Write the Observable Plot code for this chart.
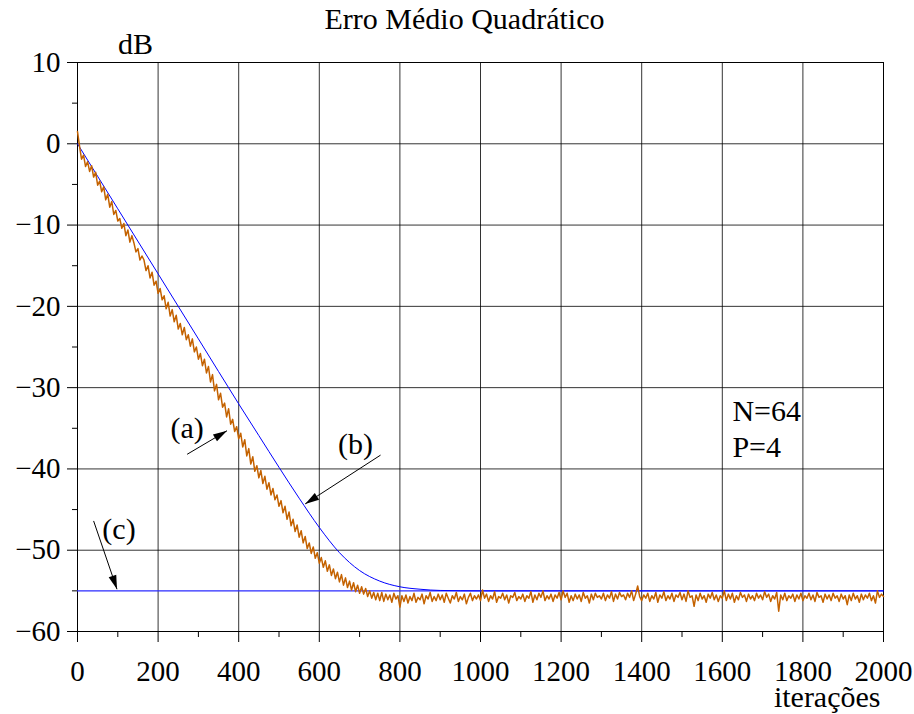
<!DOCTYPE html>
<html>
<head>
<meta charset="utf-8">
<script src="https://cdn.jsdelivr.net/npm/d3@7"></script>
<script src="https://cdn.jsdelivr.net/npm/@observablehq/plot@0.6"></script>
<style>
  html, body { margin: 0; padding: 0; background: #fff; }
  #chart { width: 914px; height: 714px; }
  #chart svg text { font-family: "Liberation Serif", "Times New Roman", Times, serif !important; }
</style>
</head>
<body>
<div id="chart"></div>
<script>
// ---- DATA ----
const title = "Erro Médio Quadrático";
const yUnit = "dB";
const xName = "iterações";

// (a) measured MSE curve, one value every 5 iterations (0..2000)
const iterStepA = 5;
const mseA = [
  1.5, -0.3, -1.9, -1.4, -2.8, -2.2, -3.4, -2.7, -4.1, -3.5, -5.1, -4.6, -5.9, -5.3, -6.9, -6.2, -7.8, -7.1, -8.7, -8.2,
  -9.5, -9.2, -10.4, -9.8, -11.3, -10.6, -12.1, -11.3, -12.2, -13.3, -12.9, -14.3, -13.8, -14.3, -15.6, -15.0, -16.5, -15.8, -17.4, -16.9,
  -18.4, -17.8, -19.2, -18.7, -20.3, -19.5, -21.2, -20.4, -21.9, -21.1, -22.8, -22.1, -23.5, -22.6, -24.1, -23.5, -24.9, -24.0, -25.6, -25.0,
  -26.5, -25.8, -27.3, -26.5, -28.2, -27.4, -29.3, -28.4, -30.4, -29.6, -31.5, -30.7, -32.4, -31.9, -33.6, -32.6, -34.5, -33.9, -35.4, -34.8,
  -36.3, -35.6, -37.3, -36.4, -38.4, -37.5, -39.4, -38.5, -40.3, -39.6, -41.1, -40.2, -41.8, -40.9, -42.5, -41.7, -43.2, -42.4, -43.8, -43.2,
  -44.6, -43.9, -45.4, -44.6, -46.2, -45.3, -47.0, -46.2, -47.7, -46.9, -48.4, -47.6, -49.1, -48.3, -49.8, -49.1, -50.4, -49.6, -51.0, -50.3,
  -51.6, -50.9, -52.1, -51.3, -52.6, -51.8, -53.1, -52.3, -53.5, -52.7, -53.9, -53.0, -54.3, -53.4, -54.6, -53.8, -54.9, -54.0, -55.1, -54.3,
  -55.3, -54.5, -55.4, -54.7, -55.7, -55.0, -55.9, -55.2, -56.1, -55.3, -56.2, -55.2, -56.3, -55.4, -56.1, -55.5, -56.4, -55.3, -56.0, -55.6,
  -57.0, -55.6, -56.3, -55.5, -56.5, -55.7, -56.2, -55.3, -56.4, -55.8, -56.1, -55.4, -56.6, -55.6, -56.0, -55.2, -56.3, -55.7, -56.2, -55.4,
  -56.1, -55.5, -56.4, -55.3, -55.9, -56.5, -55.6, -56.0, -55.2, -56.3, -55.7, -56.1, -55.4, -56.6, -55.8, -55.3, -56.2, -55.6, -56.0, -55.5,
  -56.2, -54.9, -55.9, -55.4, -56.3, -55.6, -56.0, -55.1, -56.4, -55.7, -55.9, -55.3, -56.1, -55.5, -56.5, -55.6, -55.8, -55.2, -56.2, -55.7,
  -56.0, -55.4, -56.3, -55.6, -55.9, -55.1, -56.4, -55.5, -56.1, -55.3, -55.8, -55.0, -56.2, -55.6, -56.0, -55.4, -56.3, -55.5, -55.9, -55.2,
  -56.1, -55.0, -55.8, -55.3, -56.4, -55.6, -56.2, -55.4, -56.0, -55.5, -56.3, -55.2, -55.9, -55.6, -56.5, -55.4, -56.1, -55.3, -55.8, -55.6,
  -56.0, -55.3, -56.2, -55.5, -55.9, -55.1, -56.3, -55.4, -56.0, -55.2, -55.7, -55.5, -56.1, -55.3, -55.8, -55.0, -56.2, -55.4, -54.4, -55.7,
  -56.2, -55.5, -55.9, -55.3, -56.3, -55.6, -56.0, -55.2, -56.4, -55.5, -55.9, -55.1, -56.2, -55.6, -56.0, -55.3, -56.3, -55.5, -55.8, -55.2,
  -56.1, -55.4, -56.3, -55.0, -55.8, -55.6, -56.9, -55.5, -56.2, -55.3, -56.0, -55.6, -56.4, -55.4, -55.9, -55.2, -56.1, -55.5, -56.3, -55.6,
  -55.9, -55.0, -56.2, -55.4, -56.0, -55.3, -56.4, -55.6, -56.1, -55.2, -55.8, -55.5, -56.3, -55.4, -56.0, -55.6, -56.2, -55.3, -55.9, -55.5,
  -56.1, -55.1, -55.8, -55.4, -56.3, -55.6, -56.0, -55.2, -57.5, -55.5, -56.1, -55.3, -56.2, -55.6, -55.9, -55.4, -56.3, -55.5, -56.0, -55.3,
  -56.2, -55.6, -55.9, -55.3, -56.1, -55.5, -56.3, -55.2, -55.8, -55.6, -56.4, -55.4, -56.0, -55.5, -56.2, -55.3, -55.9, -55.6, -56.3, -55.4,
  -56.0, -55.6, -56.7, -55.5, -56.2, -55.3, -56.0, -55.6, -56.4, -55.4, -56.1, -55.5, -55.9, -55.3, -56.2, -55.6, -56.5, -55.0, -55.8, -55.4,
  -55.7
];
const iterA = d3.range(0, mseA.length * iterStepA, iterStepA);

// (b) theoretical curve
const iterB = [0, 100, 200, 300, 400, 450, 500, 550, 600, 650, 700, 750, 800, 850, 900, 1000, 2000];
const mseB  = [0, -8, -16, -24, -32, -35.9, -39.8, -43.6, -47.2, -50.3, -52.5, -53.8, -54.5, -54.8, -54.95, -55, -55];

// (c) minimum MSE level
const floorC = [-55];

// axis ticks
const xTicks = [0, 200, 400, 600, 800, 1000, 1200, 1400, 1600, 1800, 2000];
const xMinor = [100, 300, 500, 700, 900, 1100, 1300, 1500, 1700, 1900];
const yTicks = [-60, -50, -40, -30, -20, -10, 0, 10];
const yMinor = [-55, -45, -35, -25, -15, -5, 5];

// annotations (data coordinates)
const labelText = ["(a)", "(b)", "(c)"];
const labelX = [272, 690, 103];
const labelY = [-35.0, -37.0, -47.4];
const arrowX1 = [272, 752, 40];
const arrowY1 = [-38.2, -38.3, -46.4];
const arrowX2 = [371, 565, 98];
const arrowY2 = [-35.3, -44.3, -54.8];
const paramText = ["N=64", "P=4"];
const paramX = [1625, 1625];
const paramY = [-32.9, -37.4];

// ---- BUILD ----
const dataA = iterA.map((n, i) => ({n, v: mseA[i]}));
const dataB = iterB.map((n, i) => ({n, v: mseB[i]}));
const labels = labelText.map((t, i) => ({t, x: labelX[i], y: labelY[i]}));
const params = paramText.map((t, i) => ({t, x: paramX[i], y: paramY[i]}));
const arrows = arrowX1.map((x1, i) => ({x1, y1: arrowY1[i], x2: arrowX2[i], y2: arrowY2[i]}));

const headSymbol = {
  draw(ctx) {
    ctx.moveTo(0, 0);
    ctx.lineTo(-4, 14);
    ctx.lineTo(4, 14);
    ctx.closePath();
  }
};

const serif = "Liberation Serif, Times New Roman, Times, serif";
const FS = 30;   // annotation / title size
const TS = 29;   // tick label size

function build(rotations) {
  return Plot.plot({
    width: 914,
    height: 714,
    marginLeft: 77,
    marginRight: 31,
    marginTop: 62,
    marginBottom: 83,
    x: {domain: [0, 2000], label: null},
    y: {domain: [-60, 10], label: null},
    style: {fontFamily: serif, fontSize: FS + "px", background: "#fff", color: "#000", overflow: "visible"},
    marks: [
      Plot.gridX(xTicks, {stroke: "#000", strokeOpacity: 0.8, strokeWidth: 1}),
      Plot.gridY(yTicks, {stroke: "#000", strokeOpacity: 0.8, strokeWidth: 1}),
      Plot.frame({stroke: "#000", strokeWidth: 1}),
      Plot.axisX({ticks: xTicks, tickSize: 11, tickPadding: 18, tickFormat: d3.format("d"), fontSize: TS, fontFamily: serif, fill: "#000", stroke: "#000"}),
      Plot.axisX({ticks: xMinor, tickSize: 6, text: null, stroke: "#000"}),
      Plot.axisY({ticks: yTicks, tickSize: 10, tickPadding: 7, tickFormat: d3.format("d"), fontSize: TS, fontFamily: serif, fill: "#000", stroke: "#000"}),
      Plot.axisY({ticks: yMinor, tickSize: 5, text: null, stroke: "#000"}),
      Plot.ruleY(floorC, {stroke: "#2a2aff", strokeWidth: 1.3}),
      Plot.line(dataB, {x: "n", y: "v", stroke: "#0000ff", strokeWidth: 1, curve: "monotone-x"}),
      Plot.line(dataA, {x: "n", y: "v", stroke: "#c46200", strokeWidth: 1.5}),
      Plot.link(arrows, {x1: "x1", y1: "y1", x2: "x2", y2: "y2", stroke: "#000", strokeWidth: 1}),
      Plot.dot(arrows, {x: "x2", y: "y2", symbol: headSymbol, r: 1, fill: "#000", stroke: "none",
        rotate: (d, i) => rotations ? rotations[i] : 0}),
      Plot.text(labels, {x: "x", y: "y", text: "t", textAnchor: "middle", lineAnchor: "middle", fontSize: FS, fontFamily: serif, fill: "#000"}),
      Plot.text(params, {x: "x", y: "y", text: "t", textAnchor: "start", lineAnchor: "middle", fontSize: FS, fontFamily: serif, fill: "#000"}),
      Plot.text([title], {frameAnchor: "top", lineAnchor: "middle", dx: -16, dy: -43, fontSize: FS, fontFamily: serif, fill: "#000"}),
      Plot.text([yUnit], {frameAnchor: "top-left", lineAnchor: "middle", dx: 58, dy: -18.5, textAnchor: "middle", fontSize: FS, fontFamily: serif, fill: "#000"}),
      Plot.text([xName], {frameAnchor: "bottom-right", lineAnchor: "middle", dx: -3, dy: 66, textAnchor: "end", fontSize: FS, fontFamily: serif, fill: "#000"})
    ]
  });
}

const probe = build(null);
const sx = probe.scale("x"), sy = probe.scale("y");
const rotations = arrows.map(a => {
  const dx = sx.apply(a.x2) - sx.apply(a.x1);
  const dy = sy.apply(a.y2) - sy.apply(a.y1);
  return Math.atan2(dx, -dy) * 180 / Math.PI;
});
const chart = build(rotations);
d3.select(chart).selectAll("text").style("font-family", serif);
document.getElementById("chart").appendChild(chart);
</script>
</body>
</html>
